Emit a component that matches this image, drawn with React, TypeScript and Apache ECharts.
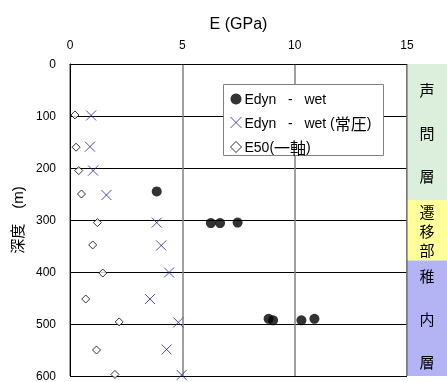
import React, { useEffect, useRef } from "react";
import * as echarts from "echarts";

const edynE = [3.86, 6.27, 6.68, 7.46, 8.84, 9.04, 10.3, 10.88];
const edynDepth = [245, 306, 306, 305, 490, 493, 493, 490];

const edynAtmE = [0.94, 0.89, 1.03, 1.62, 3.86, 4.06, 4.41, 3.56, 4.82, 4.3, 4.97];
const edynAtmDepth = [99, 159, 205, 252, 305, 349, 401, 452, 497, 549, 598];

const e50E = [0.22, 0.27, 0.39, 0.51, 1.22, 1.01, 1.46, 0.7, 2.19, 1.18, 2.0];
const e50Depth = [98, 160, 205, 250, 305, 348, 402, 452, 496, 550, 597];

const layerChars = [["声", "問", "層"], ["遷", "移", "部"], ["稚", "内", "層"]];
const layerTop = [0, 262, 378];
const layerBottom = [262, 378, 600];
const layerColors = ["#dcefdc", "#ffff99", "#b4b4f4"];
const layerLineHeights = [43, 19, 43];

const seriesNames = ["Edyn   -   wet", "Edyn   -   wet (常圧)", "E50(一軸)"];

const FONT = "'Liberation Sans', Arial, 'Noto Sans CJK JP', sans-serif";
const CJK = "'Noto Sans CJK JP', sans-serif";
const CROSS = "path://M0,0L10,10M10,0L0,10";
const BLUE = "#1e1ea6";

const pairs = (xs: number[], ys: number[]) => xs.map((x, i) => [x, ys[i]]);

export default function App() {
  const ref = useRef<HTMLDivElement>(null);
  useEffect(() => {
    if (!ref.current) return;
    const chart = echarts.init(ref.current, null, { renderer: "svg" });
    chart.setOption({
      animation: false,
      textStyle: { fontFamily: FONT },
      grid: { left: 70, right: 40, top: 64, bottom: 2 },
      legend: {
        orient: "vertical",
        left: 223,
        top: 84,
        padding: [8, 4, 5, 7],
        itemGap: 8.5,
        itemWidth: 11,
        itemHeight: 11,
        textStyle: {
          fontSize: 14,
          lineHeight: 14,
          color: "#000",
          fontFamily: FONT,
          padding: [0, 0, 0, -2],
          rich: { c: { fontSize: 16, lineHeight: 14, fontFamily: CJK, color: "#000" } },
        },
        data: [
          { name: seriesNames[0], icon: "circle", itemStyle: { color: "#000" } },
          { name: seriesNames[1], icon: CROSS, itemStyle: { color: "transparent", borderColor: BLUE, borderWidth: 1 } },
          { name: seriesNames[2], icon: "diamond", itemStyle: { color: "#fff", borderColor: "#000", borderWidth: 1 } },
        ],
        formatter: (name: string) =>
          name.replace(/([\u3000-\u9fff]+)/g, (m) => `{c|${m}}`),
        z: 20,
      },
      xAxis: {
        type: "value",
        position: "top",
        min: 0,
        max: 15,
        interval: 5,
        name: "E (GPa)",
        nameLocation: "middle",
        nameGap: 33,
        nameTextStyle: { fontSize: 16, color: "#000", fontFamily: FONT },
        axisLine: { show: true, lineStyle: { color: "#000", width: 1 } },
        axisTick: { show: false },
        axisLabel: { fontSize: 12, color: "#000", margin: 13, fontFamily: FONT },
        splitLine: { show: true, lineStyle: { color: "#808080", width: 1.5 } },
      },
      yAxis: {
        type: "value",
        inverse: true,
        min: 0,
        max: 600,
        interval: 100,
        name: "深度　(m)",
        nameLocation: "middle",
        nameRotate: 90,
        nameGap: 45,
        nameTextStyle: { fontSize: 15, color: "#000", fontFamily: FONT },
        axisLine: { show: true, lineStyle: { color: "#000", width: 1 } },
        axisTick: { show: false },
        axisLabel: { fontSize: 12, color: "#000", margin: 14, fontFamily: FONT },
        splitLine: { show: true, lineStyle: { color: "#000", width: 1 } },
      },
      series: [
        {
          name: seriesNames[0],
          type: "scatter",
          symbol: "circle",
          symbolSize: 10,
          itemStyle: { color: "#000" },
          data: pairs(edynE, edynDepth),
          z: 5,
        },
        {
          name: seriesNames[1],
          type: "scatter",
          symbol: CROSS,
          symbolSize: 10,
          itemStyle: { color: "transparent", borderColor: BLUE, borderWidth: 1 },
          data: pairs(edynAtmE, edynAtmDepth),
          z: 4,
        },
        {
          name: seriesNames[2],
          type: "scatter",
          symbol: "diamond",
          symbolSize: 8,
          itemStyle: { color: "#fff", borderColor: "#000", borderWidth: 1 },
          data: pairs(e50E, e50Depth),
          z: 3,
        },
      ],
    });

    const x0 = chart.convertToPixel({ xAxisIndex: 0 }, 15) as number;
    const w = chart.getWidth();
    const elements: any[] = [];
    layerChars.forEach((chars, i) => {
      const yTop = chart.convertToPixel({ yAxisIndex: 0 }, layerTop[i]) as number;
      const yBot = chart.convertToPixel({ yAxisIndex: 0 }, layerBottom[i]) as number;
      elements.push({
        type: "rect",
        shape: { x: x0, y: yTop, width: w - x0, height: yBot - yTop },
        style: { fill: layerColors[i], stroke: "none" },
        z: 10,
      });
      const cy = (yTop + yBot) / 2;
      chars.forEach((ch, k) => {
        elements.push({
          type: "text",
          x: (x0 + w) / 2,
          y: cy + (k - (chars.length - 1) / 2) * layerLineHeights[i],
          style: {
            text: ch,
            fontSize: 15,
            fontFamily: CJK,
            fill: "#000",
            align: "center",
            verticalAlign: "middle",
          },
          z: 11,
        });
      });
    });
    const yTopAll = chart.convertToPixel({ yAxisIndex: 0 }, 0) as number;
    const yBotAll = chart.convertToPixel({ yAxisIndex: 0 }, 600) as number;
    elements.push({
      type: "line",
      shape: { x1: x0, y1: yTopAll, x2: x0, y2: yBotAll },
      style: { stroke: "#555", lineWidth: 1 },
      z: 12,
    });
    // legend frame
    elements.push({
      type: "rect",
      shape: { x: 223.5, y: 84.5, width: 160, height: 71 },
      style: { fill: "#fff", stroke: "#808080", lineWidth: 1 },
      z: 3,
    });
    chart.setOption({ graphic: { elements } });

    return () => chart.dispose();
  }, []);
  return (
    <div
      ref={ref}
      style={{ position: "fixed", left: 0, top: 0, width: 447, height: 382 }}
    />
  );
}
